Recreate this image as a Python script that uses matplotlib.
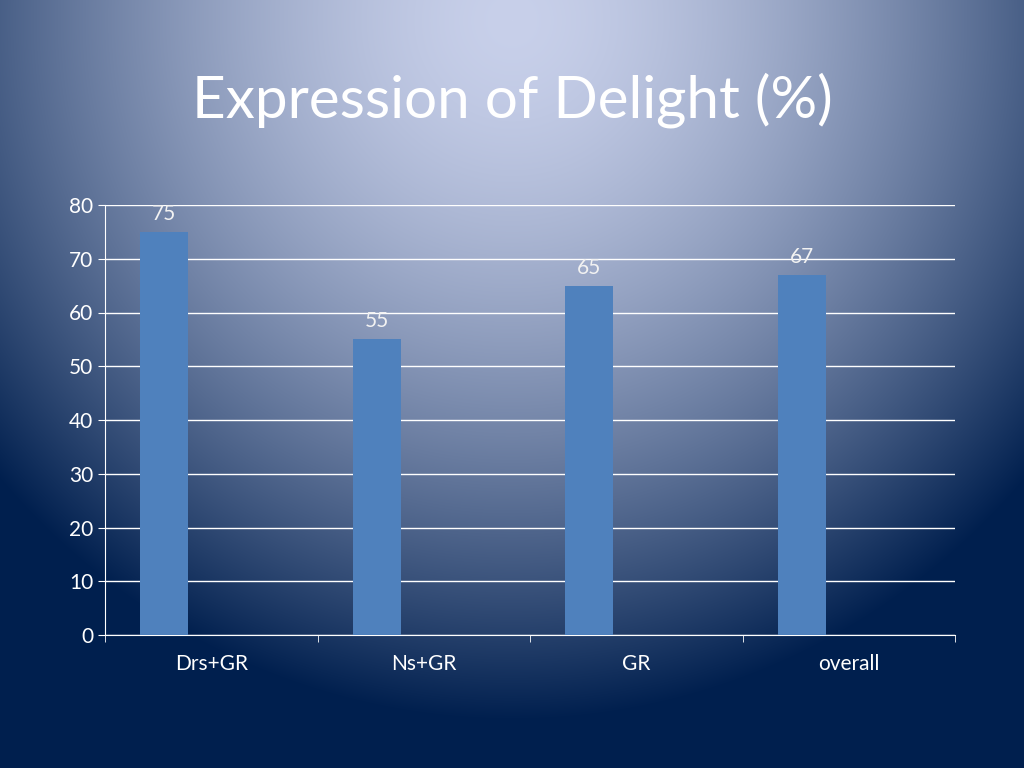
import numpy as np
import matplotlib
matplotlib.use("Agg")
import matplotlib.pyplot as plt

categories = ["Drs+GR", "Ns+GR", "GR", "overall"]
values = [75, 55, 65, 67]
yticks = [0, 10, 20, 30, 40, 50, 60, 70, 80]

plt.rcParams['font.family'] = ['Lato', 'DejaVu Sans']
fig = plt.figure(figsize=(10.24, 7.68), dpi=100)

# radial gradient background
bg = fig.add_axes([0, 0, 1, 1])
H, W = 768, 1024
yy, xx = np.mgrid[0:H, 0:W]
r = np.sqrt(((xx - 512) / 680.0) ** 2 + ((yy - 20) / 700.0) ** 2)
t = np.clip(r, 0, 1) ** 1.6
light = np.array([0xc8, 0xd0, 0xea]) / 255
dark = np.array([0x00, 0x1f, 0x4e]) / 255
img = light[None, None, :] * (1 - t[..., None]) + dark[None, None, :] * t[..., None]
bg.imshow(img, aspect='auto', extent=[0, 1, 0, 1])
bg.axis('off')

ax = fig.add_axes([105 / 1024, 1 - 635 / 768, 850 / 1024, 430 / 768])
ax.patch.set_alpha(0)
x = np.arange(len(categories))
bars = ax.bar(x - 0.222, values, width=0.226, color='#4f81bd', zorder=3)
for xi, v in zip(x, values):
    ax.text(xi - 0.222, v + 1.5, str(v), ha='center', va='bottom', color='#f2f2f2', fontsize=15)
ax.set_xlim(-0.5, 3.5)
ax.set_ylim(0, 80)
ax.set_yticks(yticks)
ax.set_xticks(x)
ax.set_xticklabels(categories)
ax.set_xticks([-0.5, 0.5, 1.5, 2.5, 3.5], minor=True)
ax.tick_params(axis='x', which='major', length=0, colors='white', labelsize=15, pad=14)
ax.tick_params(axis='x', which='minor', length=5, color='white')
ax.tick_params(axis='y', colors='white', labelsize=15, length=5, direction='out')
ax.grid(axis='y', color='white', linewidth=1, zorder=0)
for s in ['top', 'right']:
    ax.spines[s].set_visible(False)
ax.spines['left'].set_color('white')
ax.spines['bottom'].set_color('white')

fig.text(0.5, 1 - 100 / 768, "Expression of Delight (%)", ha='center', va='center',
         color='white', fontsize=42)
fig.savefig("out.png", dpi=100)
